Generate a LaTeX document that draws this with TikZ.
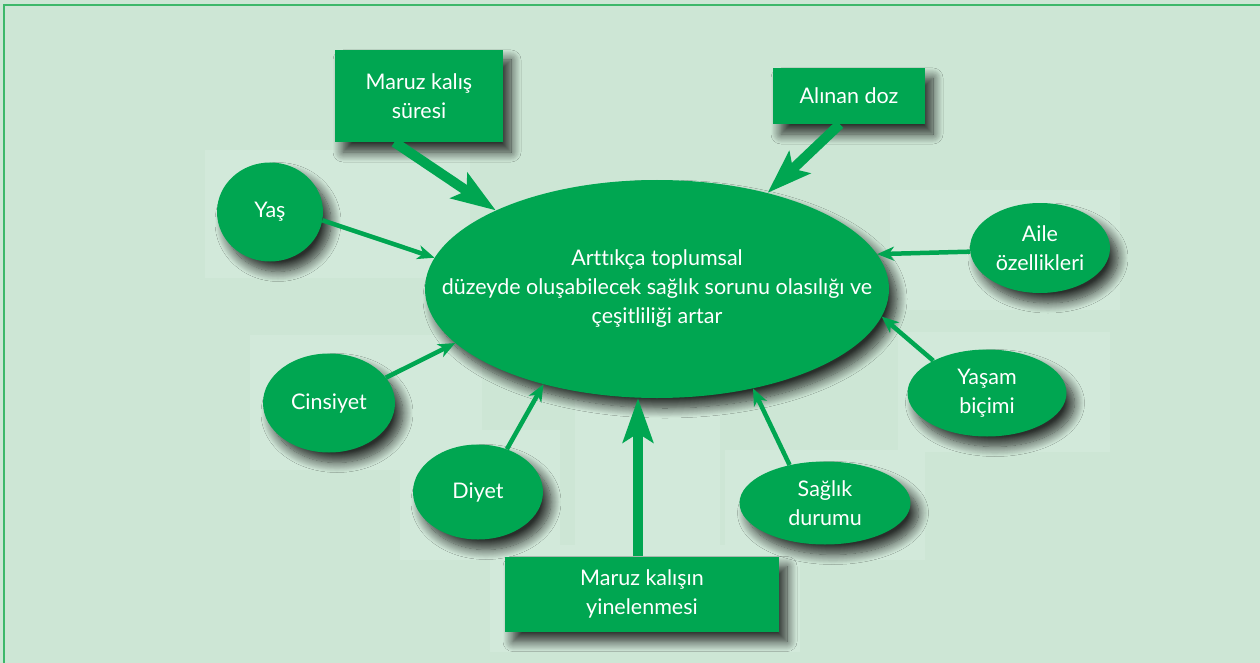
\documentclass[tikz,border=0pt]{standalone}
\usepackage{fontspec}
\setmainfont{Lato}[Ligatures=NoCommon]
\usetikzlibrary{arrows.meta,shapes.geometric,shadows.blur}
\definecolor{bg}{HTML}{CDE6D5}
\definecolor{leaf}{HTML}{00A651}
\definecolor{patch}{HTML}{D2E9DA}
\definecolor{rim}{HTML}{3DB86A}

\begin{document}
\begin{tikzpicture}[x=1pt,y=-1pt,
  every node/.style={font=\fontsize{21.5}{29}\selectfont, text=white, align=center, inner sep=0pt},
  shade/.style={blur shadow={shadow xshift=8pt, shadow yshift=-10pt, shadow opacity=80, shadow blur radius=10pt, shadow blur steps=14}},
  box/.style={rectangle, fill=leaf, shade},
  oval/.style={ellipse, fill=leaf, shade},
  thin/.style={draw=leaf, line width=4.5pt, -{Stealth[length=17pt,width=14pt,inset=5pt]}},
  thick/.style={draw=leaf, line width=10pt, -{Stealth[length=44pt,width=30pt,inset=9pt]}},
]
\useasboundingbox (0,0) rectangle (1260,663);
\fill[bg] (0,0) rectangle (1260,663);

% faint lighter panels behind the groups
\fill[patch] (205,150) rectangle (470,278);
\fill[patch] (250,335) rectangle (482,470);
\fill[patch] (400,430) rectangle (560,560);
\fill[patch] (575,400) rectangle (720,548);
\fill[patch] (490,545) rectangle (800,652);
\fill[patch] (725,450) rectangle (925,560);
\fill[patch] (890,190) rectangle (1120,310);
\fill[patch] (898,332) rectangle (1110,452);

% frame
\draw[rim, line width=2pt] (4,663) -- (4,5) -- (1260,5);

% central ellipse and its caption
\node[oval, minimum width=464pt, minimum height=218pt] (main) at (657,289) {};
\node (maintext) at (main.center)
  {Arttıkça toplumsal\\düzeyde oluşabilecek sağlık sorunu olasılığı ve\\çeşitliliği artar};

% surrounding factors
\node[box, minimum width=168pt, minimum height=92pt] (sure) at (419,96) {Maruz kalış\\süresi};
\node[box, minimum width=152pt, minimum height=56pt] (doz) at (849,96) {Alınan doz};
\node[oval, minimum width=106pt, minimum height=99pt] (yas) at (270,212) {Yaş};
\node[oval, minimum width=140pt, minimum height=90pt] (aile) at (1040,248) {Aile\\özellikleri};
\node[oval, minimum width=132pt, minimum height=99pt] (cins) at (329,403) {Cinsiyet};
\node[oval, minimum width=130pt, minimum height=95pt] (diyet) at (478,492) {Diyet};
\node[box, minimum width=274pt, minimum height=75pt] (yin) at (642,594) {Maruz kalışın\\yinelenmesi};
\node[oval, minimum width=171pt, minimum height=83pt] (saglik) at (825,503) {Sağlık\\durumu};
\node[oval, minimum width=159pt, minimum height=87pt] (yasam) at (987,393) {Yaşam\\biçimi};

% connectors
\draw[thick] (sure.242) -- (main.154);
\draw[thick] (doz.252) -- (main.41);
\draw[thick] ([xshift=-4pt]yin.north) -- ([xshift=-4pt]yin.north |- main.south);
\draw[thin] (yas.-9) -- (main.172);
\draw[thin] (aile.183) -- (main.9);
\draw[thin] (cins.24) -- (main.195);
\draw[thin] (diyet.56) -- (main.220);
\draw[thin] (saglik.133) -- (main.-46);
\draw[thin] (yasam.149) -- (main.-7);
\end{tikzpicture}
\end{document}
